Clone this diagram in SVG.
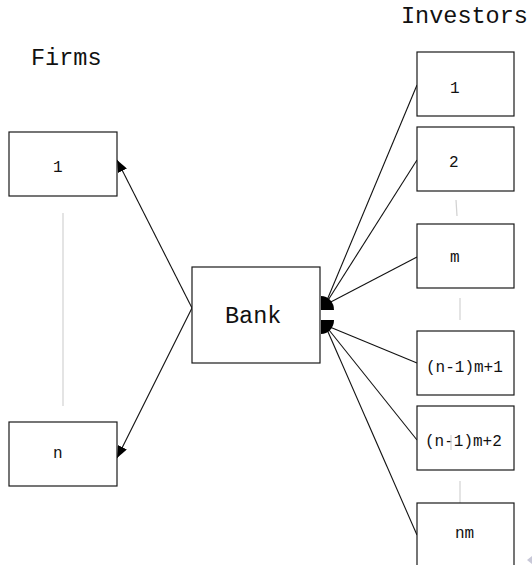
<svg xmlns="http://www.w3.org/2000/svg" width="532" height="565" viewBox="0 0 532 565">
  <style>
    .box { fill: #ffffff; stroke: #1a1a1a; stroke-width: 1.2; }
    .lbl { font-family: "Liberation Mono", "DejaVu Sans Mono", monospace; font-size: 16px; fill: #111; }
    .big { font-family: "Liberation Mono", "DejaVu Sans Mono", monospace; font-size: 23.5px; fill: #111; }
    .edge { stroke: #111; stroke-width: 1.1; fill: none; }
    .guide { stroke: #d2d2d2; stroke-width: 1.2; fill: none; }
    .head { fill: #000; }
  </style>
  <defs>
    <marker id="arrow" viewBox="0 0 12 10" refX="12" refY="5" markerWidth="12" markerHeight="10" markerUnits="userSpaceOnUse" orient="auto">
      <path d="M0,0 L12,5 L0,10 Z" class="head"/>
    </marker>
  </defs>

  <rect width="532" height="565" fill="#ffffff"/>

  <!-- column titles -->
  <text class="big" x="31" y="65">Firms</text>
  <text class="big" x="401" y="23">Investors</text>

  <!-- dotted-range guides between boxes -->
  <g id="guides">
    <line class="guide" x1="63" y1="213" x2="63" y2="406"/>
    <line class="guide" x1="456" y1="200" x2="457" y2="216"/>
    <line class="guide" x1="460" y1="298" x2="460" y2="320"/>
    <line class="guide" x1="460" y1="481" x2="460" y2="503"/>
  </g>

  <!-- connectors -->
  <g id="connectors">
    <line class="edge" x1="192" y1="308" x2="117" y2="160" marker-end="url(#arrow)"/>
    <line class="edge" x1="192" y1="308" x2="117" y2="458" marker-end="url(#arrow)"/>
    <line class="edge" x1="417" y1="85" x2="325" y2="305"/>
    <line class="edge" x1="417" y1="160" x2="325" y2="305"/>
    <line class="edge" x1="417" y1="257" x2="325" y2="305"/>
    <line class="edge" x1="417" y1="363" x2="325" y2="325"/>
    <line class="edge" x1="417" y1="440" x2="325" y2="325"/>
    <line class="edge" x1="417" y1="535" x2="325" y2="325"/>
    <path class="head" d="M321,310 L321,296 A13,14 0 0 1 334,310 Z"/>
    <path class="head" d="M321,320 L334,320 A13,14 0 0 1 321,334 Z"/>
  </g>

  <!-- firms -->
  <g id="firm-1">
    <rect class="box" x="9" y="132" width="108" height="64"/>
    <text class="lbl" x="53" y="172">1</text>
  </g>
  <g id="firm-n">
    <rect class="box" x="9" y="422" width="108" height="64"/>
    <text class="lbl" x="53" y="458">n</text>
  </g>

  <!-- bank -->
  <g id="bank">
    <rect class="box" x="192" y="267" width="128" height="96"/>
    <text class="big" x="225" y="323">Bank</text>
  </g>

  <!-- investors -->
  <g id="investor-1">
    <rect class="box" x="417" y="52" width="97" height="64"/>
    <text class="lbl" x="450" y="93">1</text>
  </g>
  <g id="investor-2">
    <rect class="box" x="417" y="127" width="97" height="64"/>
    <text class="lbl" x="449" y="167">2</text>
  </g>
  <g id="investor-m">
    <rect class="box" x="417" y="224" width="97" height="64"/>
    <text class="lbl" x="450" y="262">m</text>
  </g>
  <g id="investor-n1m1">
    <rect class="box" x="417" y="331" width="97" height="64"/>
    <text class="lbl" x="426" y="372">(n-1)m+1</text>
  </g>
  <g id="investor-n1m2">
    <rect class="box" x="417" y="406" width="97" height="64"/>
    <text class="lbl" x="425" y="446">(n-1)m+2</text>
    <line class="guide" x1="451" y1="435" x2="451" y2="450"/>
  </g>
  <g id="investor-nm">
    <rect class="box" x="417" y="503" width="97" height="64"/>
    <text class="lbl" x="455" y="538">nm</text>
  </g>

  <!-- scroll marker -->
  <path d="M527,560 L532,556 L532,564 Z" fill="#c8c8d8"/>
</svg>
